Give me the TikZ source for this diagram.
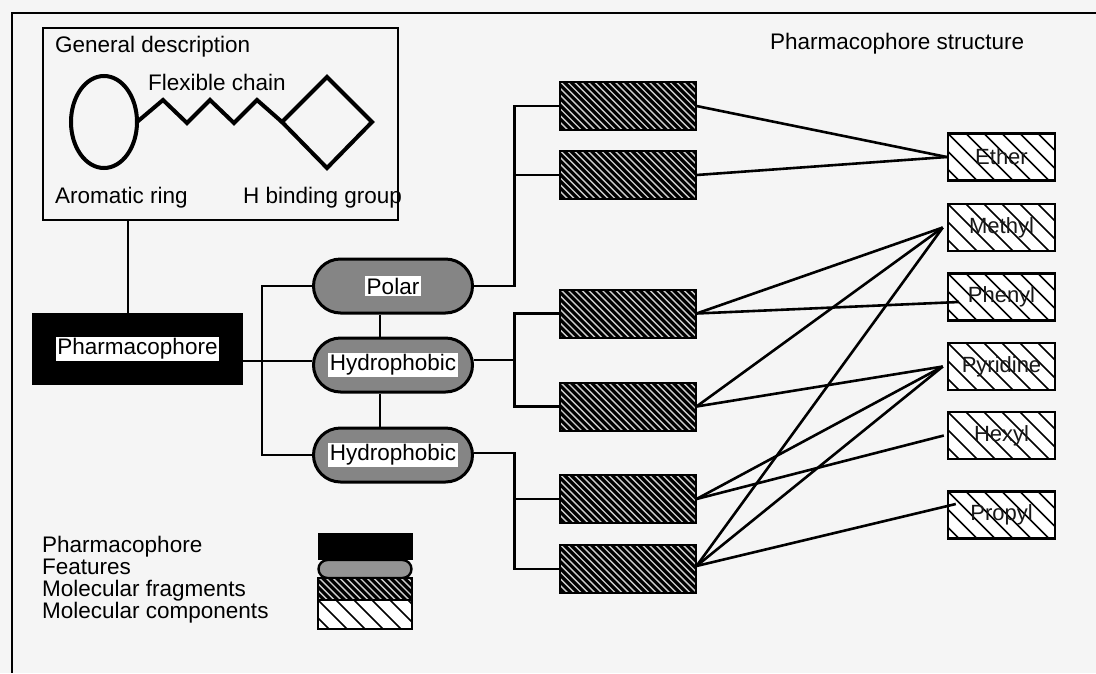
\documentclass[tikz,border=0pt]{standalone}
\usepackage{fontspec}
\setmainfont{Liberation Sans}
\usetikzlibrary{shapes.misc}
\begin{document}
\begin{tikzpicture}[x=1pt,y=-1pt,
  every node/.style={font=\fontsize{22.5}{23}\selectfont},
  wire/.style={line width=2.6pt},
  bond/.style={line width=4pt, line join=miter},
  txt/.style={inner sep=0pt, anchor=west},
  featpill/.style={rounded rectangle, draw, line width=3pt, fill=black!48,
    minimum width=159pt, minimum height=54pt, inner sep=0pt},
  darkhatch/.style={path picture={
    \foreach \k in {-60,-53.2,...,150}
      \draw[white!80!black, line width=1.4pt]
        ([xshift=\k pt]path picture bounding box.north west) -- ++(62pt,-62pt);}},
  lighthatch/.style={path picture={
    \foreach \k in {-54,-36,...,120}
      \draw[black, line width=1.6pt]
        ([xshift=\k pt]path picture bounding box.north west) -- ++(56pt,-56pt);}},
  fragbox/.style={draw, line width=2pt, fill=black, darkhatch,
    minimum width=136pt, minimum height=48pt, inner sep=0pt},
  compbox/.style={draw, line width=2.4pt, fill=white, lighthatch,
    minimum width=107pt, minimum height=47pt, inner sep=0pt, text=black!90,
    font=\fontsize{22}{22}\selectfont}
]
% canvas and frame
\fill[black!4] (0,0) rectangle (1096,673);
\useasboundingbox (0,0) rectangle (1096,673);
\draw[line width=2.8pt] (1096,13) -- (12,13) -- (12,673);

% general description of the pharmacophore
\node[draw, line width=2.6pt, minimum width=355pt, minimum height=192pt, inner sep=0pt] (desc) at (220.5,124) {};
\node[txt] (desctitle) at (55,47) {General description};
\node[txt] (chainlbl) at (148,82) {Flexible chain};
\node[txt] (ringlbl) at (55,198) {Aromatic ring};
\node[txt] (hbondlbl) at (243,198) {H binding group};
\draw[bond] (104,122) ellipse [x radius=33, y radius=46];
\draw[bond] (137,122) -- (163,100) -- (187,123) -- (210,100) -- (234,123) -- (257,100) -- (282,122);
\draw[bond] (282,122) -- (327,77) -- (372,122) -- (327,168) -- cycle;

\node[txt] (structlbl) at (770,44) {Pharmacophore structure};

% pharmacophore and its features
\node[fill=black, minimum width=211pt, minimum height=72pt, inner sep=0pt] (pharm) at (137.5,349)
  {\setlength{\fboxsep}{1.5pt}\colorbox{white}{Pharmacophore}};
\node[featpill] (polar) at (393,286) {\setlength{\fboxsep}{1.5pt}\colorbox{white}{Polar}};
\node[featpill] (hyd1) at (393,365) {\setlength{\fboxsep}{1.5pt}\colorbox{white}{Hydrophobic}};
\node[featpill] (hyd2) at (393,455) {\setlength{\fboxsep}{1.5pt}\colorbox{white}{Hydrophobic}};

\draw[wire] ([xshift=-9.5pt]pharm.north) -- ([xshift=-9.5pt]pharm.north |- desc.south);
\draw[wire] ([yshift=4pt]pharm.east |- hyd1.west) -- ([yshift=4pt]hyd1.west);
\draw[wire] (polar.west) -- ++(-50,0) |- (hyd2.west);
\draw[wire] ([xshift=-13pt]polar.south) -- ([xshift=-13pt]hyd1.north);
\draw[wire] ([xshift=-13pt]hyd1.south) -- ([xshift=-13pt]hyd2.north);

% molecular fragments
\node[fragbox] (f1) at (627.5,106) {};
\node[fragbox] (f2) at (627.5,175) {};
\node[fragbox] (f3) at (627.5,313.5) {};
\node[fragbox] (f4) at (627.5,406.5) {};
\node[fragbox] (f5) at (627.5,499) {};
\node[fragbox] (f6) at (627.5,569) {};

\draw[wire] (polar.east) -| ([xshift=-44pt]f1.west) -- (f1.west);
\draw[wire] ([xshift=-44pt]f2.west) -- (f2.west);
\draw[wire] ([yshift=5pt]hyd1.east) -- ++(42,0);
\draw[wire] (f3.west) -- ++(-44,0) |- (f4.west);
\draw[wire] ([yshift=2pt]hyd2.east) -| ([xshift=-44pt]f6.west) -- (f6.west);
\draw[wire] ([xshift=-44pt]f5.west) -- (f5.west);

% molecular components
\node[compbox] (ether) at (1001.5,157) {Ether};
\node[compbox] (methyl) at (1001.5,227.5) {Methyl};
\node[compbox] (phenyl) at (1001.5,297) {Phenyl};
\node[compbox] (pyridine) at (1001.5,366.5) {Pyridine};
\node[compbox] (hexyl) at (1001.5,435.5) {Hexyl};
\node[compbox] (propyl) at (1001.5,515) {Propyl};

\draw[wire] (f1.east) -- (ether.west);
\draw[wire] (f2.east) -- (ether.west);
\draw[wire] (f3.east) -- ([xshift=-4pt]methyl.west);
\draw[wire] (f3.east) -- ([shift={(12pt,-5pt)}]phenyl.west);
\draw[wire] (f4.east) -- ([xshift=-4pt]methyl.west);
\draw[wire] (f4.east) -- ([xshift=-4pt]pyridine.west);
\draw[wire] (f5.east) -- ([xshift=-4pt]pyridine.west);
\draw[wire] (f5.east) -- ([xshift=-3pt]hexyl.west);
\draw[wire] ([yshift=3pt]f6.east) -- ([xshift=-4pt]methyl.west);
\draw[wire] ([yshift=3pt]f6.east) -- ([xshift=-4pt]pyridine.west);
\draw[wire] ([yshift=3pt]f6.east) -- ([shift={(9pt,11pt)}]propyl.west);

% legend
\node[fill=black, draw, line width=1pt, minimum width=94pt, minimum height=26pt, inner sep=0pt] (legpharm) at (365,546) {};
\node[rounded rectangle, draw, line width=2.4pt, fill=black!42, minimum width=93pt, minimum height=18pt, inner sep=0pt] (legfeat) at (365,569) {};
\node[draw, line width=1.5pt, fill=black, darkhatch, minimum width=94pt, minimum height=22pt, inner sep=0pt] (legfrag) at (365,589) {};
\node[draw, line width=2pt, fill=white, lighthatch, minimum width=94pt, minimum height=29pt, inner sep=0pt] (legcomp) at (365,614.5) {};
\node[txt, align=left, font=\fontsize{22.5}{22}\selectfont] (legtext) at (42,580)
  {Pharmacophore\\Features\\Molecular fragments\\Molecular components};
\end{tikzpicture}
\end{document}
